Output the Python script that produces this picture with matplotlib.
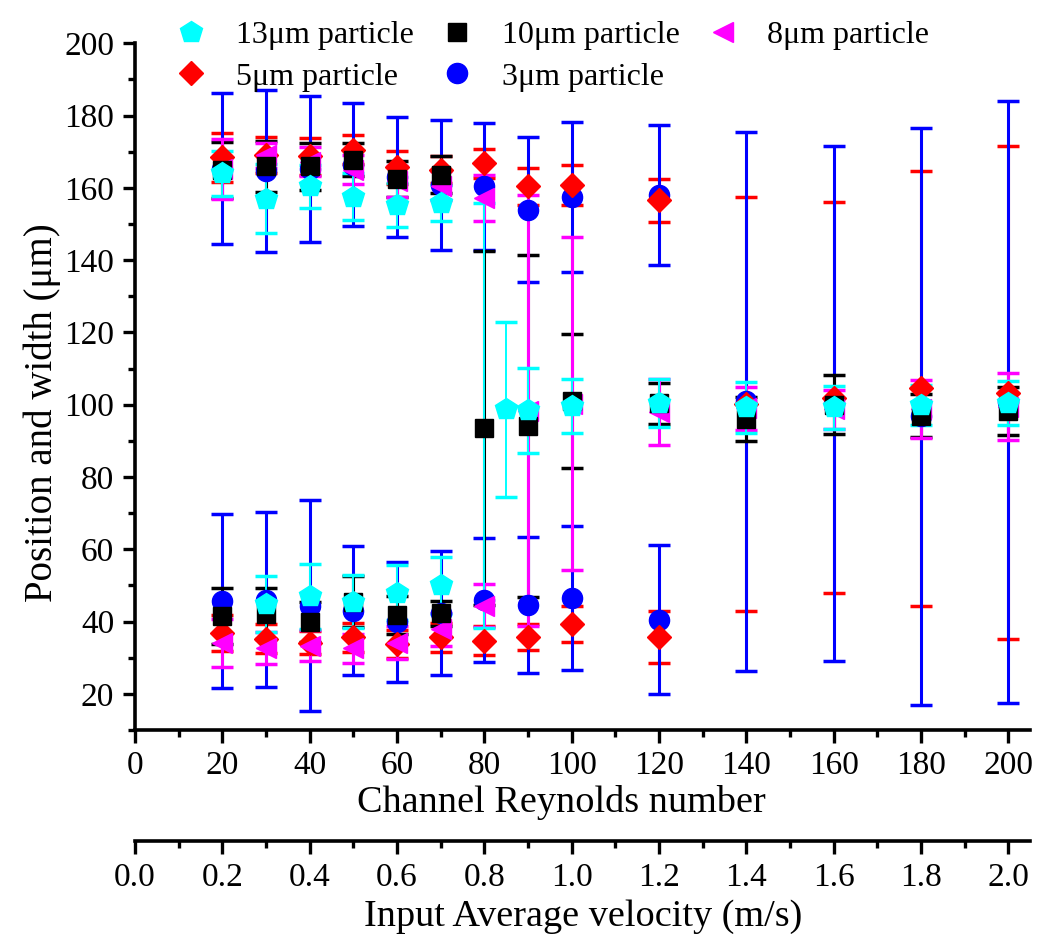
import matplotlib
matplotlib.use('Agg')
import matplotlib.pyplot as plt
from matplotlib.lines import Line2D
from matplotlib.ticker import MultipleLocator, FixedLocator, FormatStrFormatter

plt.rcParams['font.family'] = ['Liberation Serif', 'DejaVu Serif']

# Channel Reynolds number, focusing position (um) and band half width (um)
re_13 = [20, 30, 40, 50, 60, 70, 30, 40, 50, 60, 70, 80, 85, 90, 100, 120, 140, 160, 180, 200]
pos_13 = [164, 157, 160.4, 157.6, 155.3, 155.8, 44.8, 47, 45.5, 48, 50,
          96.9, 98.7, 98.5, 99.6, 100.5, 99.3, 99.3, 99.9, 100.5]
wid_13 = [6.3, 9.5, 6, 6.4, 6, 5, 7.8, 9, 7.4, 7.6, 7.8,
          58.8, 24.2, 11.8, 7.4, 6.7, 7, 6, 5.5, 6]
nomark_13 = [80]  # band only, no symbol shown at Re = 80

re_10 = [20, 30, 40, 50, 60, 70, 20, 30, 40, 50, 60, 70, 80, 90, 100, 120, 140, 160, 180, 200]
pos_10 = [165, 166, 166, 167.8, 162.5, 163.7, 41.6, 42.2, 39.8, 45.5, 41.8, 42.3,
          93.5, 94, 101, 100.4, 96, 100, 97, 98.2]
wid_10 = [7.7, 7, 6.5, 4.6, 5, 5, 7.8, 7, 5.5, 7, 5.3, 3.5,
          49, 47.3, 18.5, 5.7, 6.1, 8.2, 6, 6.6]

re_8 = [20, 30, 40, 50, 60, 70, 80, 20, 30, 40, 50, 60, 70, 80, 90, 100, 120, 140, 160, 180, 200]
pos_8 = [165.2, 169, 167.3, 165, 161.8, 160.6, 157.2, 34, 32.6, 33.3, 32.6, 34.2, 37.9, 44.4,
         98.4, 100.3, 98, 99, 98.7, 98.9, 99.5]
wid_8 = [8.2, 3.5, 4, 4, 4.3, 4, 6.4, 6.6, 4.4, 4.3, 4, 4.6, 4.6, 6,
         59.5, 46.1, 9.2, 6, 5.5, 8, 9.2]

re_5 = [20, 30, 40, 50, 60, 70, 80, 90, 100, 120, 20, 30, 40, 50, 60, 70, 80, 90, 100, 120,
        140, 160, 180, 200]
pos_5 = [168.5, 169, 168.7, 170.5, 165.7, 165, 166.8, 160.4, 160.8, 156.6,
         36.8, 35.2, 34.2, 35.6, 33.8, 35.6, 34.7, 35.7, 39.3, 35.7,
         100.1, 102, 104.5, 103.3]
wid_5 = [6.8, 5, 5, 4, 4.5, 3.7, 4, 5, 5.4, 5.9,
         5, 4, 3.2, 3.9, 4, 4, 4, 3.5, 5, 7.1,
         57.3, 54.2, 60.2, 68.2]

re_3 = re_5
pos_3 = [165.3, 164.7, 165.1, 166.4, 163, 160.7, 160.4, 154, 157.4, 158,
         45.7, 46, 44.4, 43, 39.9, 42.4, 45.9, 44.5, 46.5, 40.5,
         101, 100.4, 96.75, 100.75]
wid_3 = [20.9, 22.4, 20.2, 17, 16.7, 18, 17.6, 20, 20.7, 19.4,
         24.2, 24.2, 29.2, 17.9, 16.7, 17.2, 17.1, 18.8, 20, 20.6,
         74.6, 71.3, 79.75, 83.2]

# second scale: input average velocity (m/s)
vel_ticks = [0.0, 0.2, 0.4, 0.6, 0.8, 1.0, 1.2, 1.4, 1.6, 1.8, 2.0]

fig = plt.figure(figsize=(10.41, 9.34), dpi=100)
ax = fig.add_axes([0.1297, 0.2184, 0.86, 0.7352])

series = {
    '3': (re_3, pos_3, wid_3, 'o', '#0000ff', 14.5, '3\u03bcm particle', [], 2.2),
    '5': (re_5, pos_5, wid_5, 'D', '#ff0000', 12.5, '5\u03bcm particle', [], 2.2),
    '8': (re_8, pos_8, wid_8, '<', '#ff00ff', 15, '8\u03bcm particle', [], 2.2),
    '10': (re_10, pos_10, wid_10, 's', 'black', 13, '10\u03bcm particle', [], 2.2),
    '13': (re_13, pos_13, wid_13, 'p', '#00ffff', 16.5, '13\u03bcm particle', nomark_13, 1.4),
}

# error bars first (back to front), symbols on top
for k in ['5', '3', '10', '8', '13']:
    x, y, e, m, c, ms, lab, skip, lw = series[k]
    ax.errorbar(x, y, yerr=e, fmt='none', ecolor=c, elinewidth=lw,
                capsize=8, capthick=2.5, zorder=2)

handles = {}
for k in ['3', '5', '8', '10', '13']:
    x, y, e, m, c, ms, lab, skip, lw = series[k]
    keep = [i for i, xv in enumerate(x) if not (xv in skip and e[i] > 30)]
    ax.plot([x[i] for i in keep], [y[i] for i in keep], ls='none', marker=m,
            color=c, mec=c, ms=ms, zorder=3)
    handles[lab] = Line2D([], [], ls='none', marker=m, color=c, mec=c, ms=ms)

order = ['13\u03bcm particle', '5\u03bcm particle', '10\u03bcm particle',
         '3\u03bcm particle', '8\u03bcm particle']
fig.legend([handles[k] for k in order], order, ncol=3, loc='upper left',
           bbox_to_anchor=(0.153, 0.995), frameon=False, fontsize=23,
           handlelength=1.0, handletextpad=0.9, columnspacing=0.85,
           labelspacing=0.38, borderpad=0, numpoints=1)

ax.set_xlim(0, 205)
ax.set_ylim(10, 200)
ax.xaxis.set_major_locator(MultipleLocator(20))
ax.xaxis.set_minor_locator(MultipleLocator(10))
ax.yaxis.set_major_locator(MultipleLocator(20))
ax.yaxis.set_minor_locator(MultipleLocator(10))
for s in ('top', 'right'):
    ax.spines[s].set_visible(False)
for s in ('left', 'bottom'):
    ax.spines[s].set_linewidth(2.6)
ax.tick_params(which='major', direction='out', length=9, width=2.4, labelsize=24, pad=6)
ax.tick_params(which='minor', direction='out', length=5, width=2.4)
ax.set_xlabel('Channel Reynolds number', fontsize=27.5)
ax.set_ylabel('Position and width (\u03bcm)', fontsize=28)
ax.xaxis.set_label_coords(0.4765, -0.106)
ax.yaxis.set_label_coords(-0.104, 0.4616)
ax.xaxis.label.set_va('center')
ax.yaxis.label.set_va('center')

sec = ax.secondary_xaxis(-0.162, functions=(lambda v: v / 100, lambda v: v * 100))
sec.xaxis.set_major_locator(FixedLocator(vel_ticks))
sec.xaxis.set_minor_locator(FixedLocator([v + 0.1 for v in vel_ticks[:-1]]))
sec.xaxis.set_major_formatter(FormatStrFormatter('%.1f'))
sec.spines['bottom'].set_linewidth(2.6)
sec.tick_params(which='major', direction='out', length=9, width=2.4, labelsize=24, pad=6)
sec.tick_params(which='minor', direction='out', length=5, width=2.4)
sec.set_xlabel('Input Average velocity (m/s)', fontsize=27.5, labelpad=5)

fig.savefig('out.png', dpi=100)
